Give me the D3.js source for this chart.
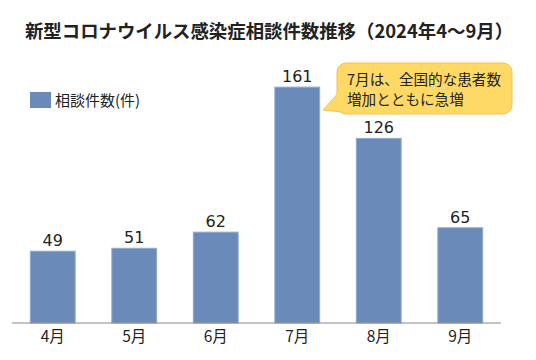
<!DOCTYPE html>
<html><head><meta charset="utf-8">
<script src="https://cdn.jsdelivr.net/npm/d3@7"></script>
<style>body{margin:0;background:#fff}svg{display:block}</style>
</head><body><svg id="c" width="536" height="360"></svg>
<script>
const months = ["4月","5月","6月","7月","8月","9月"];
const counts = [49, 51, 62, 161, 126, 65];
const seriesName = "相談件数(件)";
const title = "新型コロナウイルス感染症相談件数推移（2024年4～9月）";
const calloutLines = ["7月は、全国的な患者数","増加とともに急増"];

const CJK = '"Noto Sans CJK JP","Noto Sans",sans-serif';
const svg = d3.select("#c");
const barColor = "#6a8bb9";
const x = d3.scaleBand().domain(months).range([12, 501]).paddingInner(0.45).paddingOuter(0.225);
const y = d3.scaleLinear().domain([0, 180]).range([323, 59.3]);

svg.append("text").attr("x", 269).attr("y", 38).attr("text-anchor","middle")
  .style("font-family", CJK).style("font-size","18.4px").attr("font-weight", 700).attr("fill","#222").text(title);

svg.selectAll("rect.bar").data(counts).join("rect").attr("class","bar")
  .attr("x",(d,i)=>x(months[i])).attr("width",x.bandwidth())
  .attr("y",d=>y(d)).attr("height",d=>y(0)-y(d))
  .attr("fill",barColor).attr("stroke","#8fa9cf").attr("stroke-width",1);

svg.selectAll("text.val").data(counts).join("text").attr("class","val")
  .attr("x",(d,i)=>x(months[i])+x.bandwidth()/2).attr("y",d=>y(d)-5)
  .attr("text-anchor","middle").attr("fill","#222")
  .style("font-family",'"DejaVu Sans",sans-serif').style("font-size","16px").text(d=>d);

const ax = svg.append("g").attr("transform","translate(0,323)")
  .call(d3.axisBottom(x).tickSize(0).tickPadding(8));
ax.select(".domain").attr("stroke","#888").attr("d","M12,0H501");
ax.selectAll(".tick text").attr("fill","#222")
  .style("font-family",CJK).style("font-size","15.5px");

// legend
svg.append("rect").attr("x",30).attr("y",92).attr("width",21).attr("height",16).attr("fill",barColor);
svg.append("text").attr("x",55).attr("y",106).style("font-family",CJK).style("font-size","15px").attr("fill","#222").text(seriesName);

// callout
const cg = svg.append("g");
cg.append("path").attr("d","M341,90 L323,110 L352,113 Z").attr("fill","#ffd966").attr("stroke","#f2c14e").attr("stroke-width",1);
cg.append("rect").attr("x",337).attr("y",63).attr("width",175).attr("height",51).attr("rx",9)
  .attr("fill","#ffd966").attr("stroke","#f2c14e").attr("stroke-width",1);
cg.append("path").attr("d","M339,92 L325,109 L352,112").attr("fill","#ffd966").attr("stroke","none");
const ct = cg.append("text").style("font-family",CJK).style("font-size","14.6px").attr("fill","#222");
ct.selectAll("tspan").data(calloutLines).join("tspan")
  .attr("x",347).attr("y",(d,i)=>84.5+i*20).text(d=>d);
</script></body></html>
